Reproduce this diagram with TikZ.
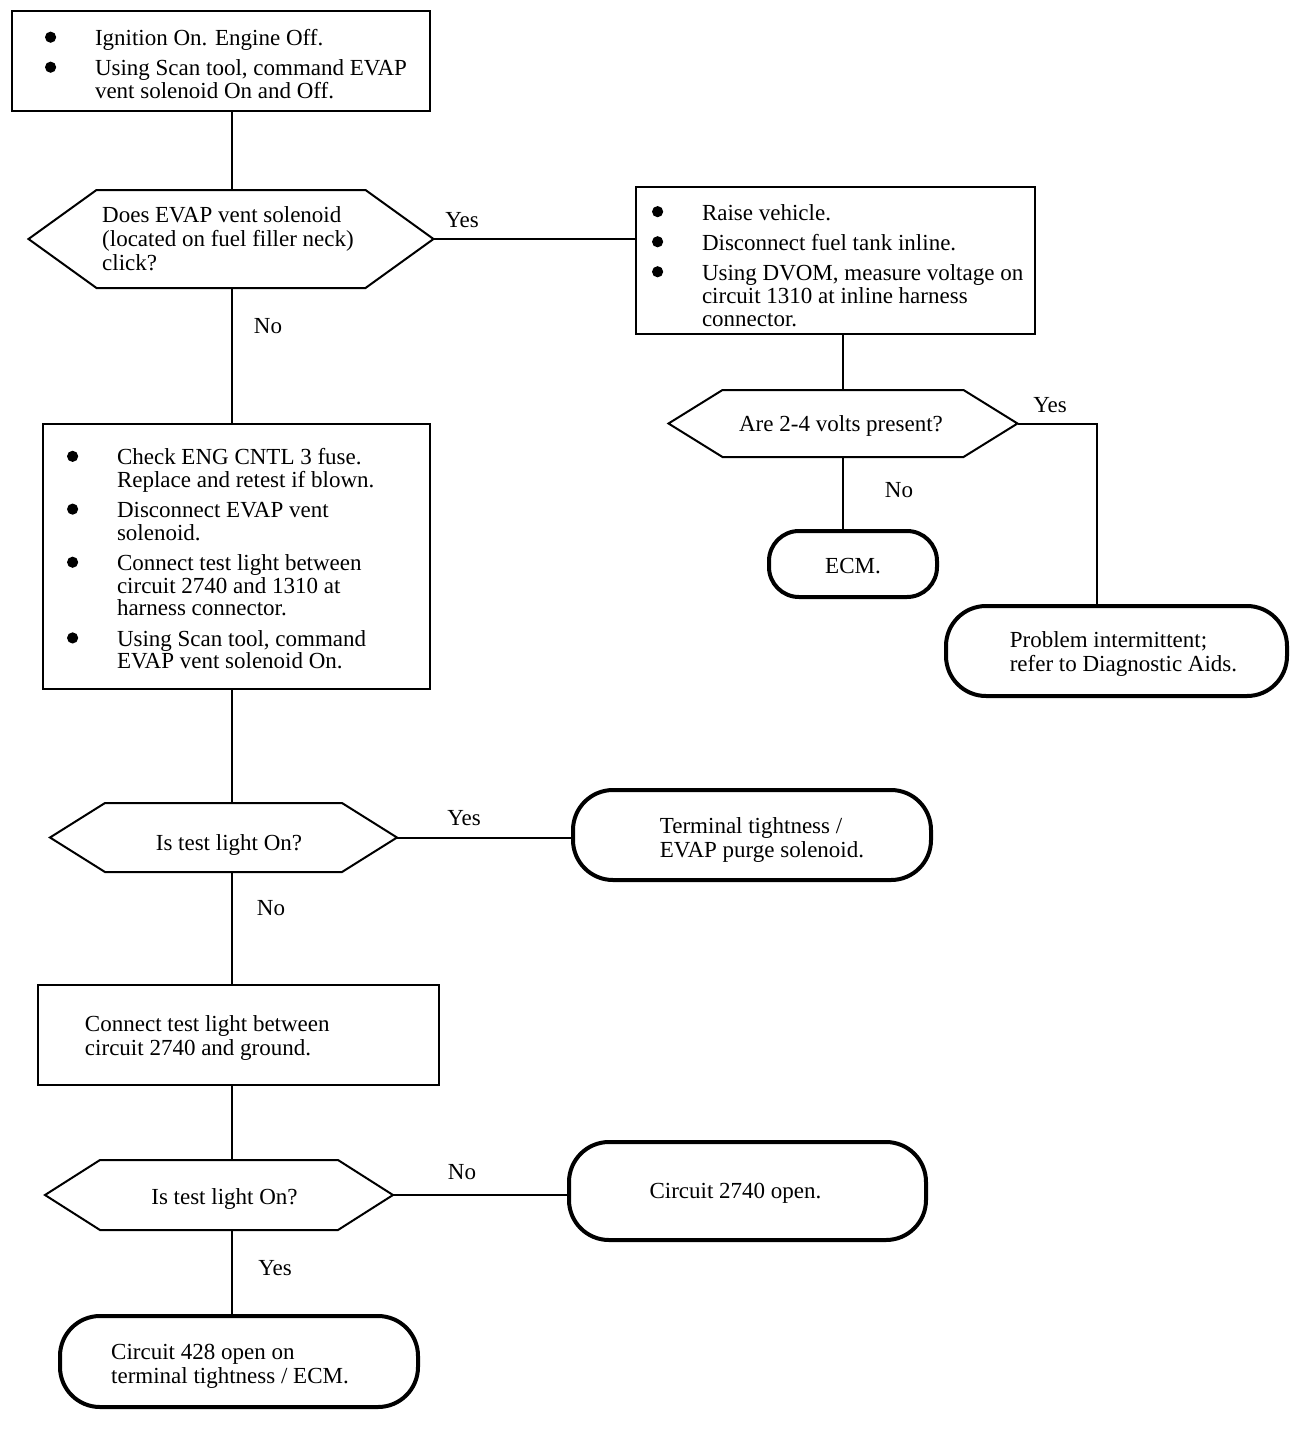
\documentclass[tikz,border=0pt]{standalone}
\usepackage{fontspec}
\usepackage{graphicx}
\usepackage{tikz}
\usetikzlibrary{positioning,calc}
\setmainfont{Liberation Serif}
\newsavebox{\mvbox}
\newcommand{\bul}{\tikz[baseline=-4.2pt]\fill (0,0) circle (2.8pt);}
\newcommand{\mv}[3]{\sbox{\mvbox}{#3}%
  \raisebox{-#2}[\ht\mvbox][\dp\mvbox]{\makebox[\wd\mvbox][l]{\hspace*{#1}\usebox{\mvbox}}}}
\newcommand{\blist}[3]{\makebox[#1][l]{\hspace*{#2}\begin{tabular}{@{}p{25pt}@{}l@{}}#3\end{tabular}}}
\newcommand{\lines}[1]{\begin{tabular}{@{}l@{}}#1\end{tabular}}
\newcommand{\hexa}[2]{\draw[decln] (#1.west) -- ([xshift=#2]#1.north west) -- ([xshift=-#2]#1.north east)
  -- (#1.east) -- ([xshift=-#2]#1.south east) -- ([xshift=#2]#1.south west) -- cycle;}
\tikzset{
  box/.style={draw,line width=1pt,anchor=north west,inner sep=0pt,outer sep=0pt,font=\fontsize{11.5}{11.5}\selectfont},
  dec/.style={inner sep=0pt,outer sep=0pt,font=\fontsize{11.5}{12}\selectfont},
  decln/.style={line width=1pt,line join=miter},
  term/.style={draw,line width=2pt,rounded corners=20pt,inner sep=0pt,outer sep=0pt,font=\fontsize{11.5}{12}\selectfont},
  conn/.style={line width=1pt},
  lbl/.style={inner sep=1pt,font=\fontsize{11.5}{12}\selectfont},
}
\begin{document}
\begin{tikzpicture}[x=0.5pt,y=-0.5pt]
\useasboundingbox (0,0) rectangle (1312,1430);
\coordinate (spine) at (232,0);

\node[box,minimum height=50pt] (chk) at (12,11) {\mv{0pt}{3.25pt}{\blist{209pt}{16.5pt}{%
\bul & Ignition On. Engine Off.\\[3.5pt]
\bul & Using Scan tool, command EVAP\\
     & vent solenoid On and Off.}}};

\node[dec,minimum width=202.5pt,minimum height=49pt] (click) at (231,239)
  {\mv{-1.5pt}{1.2pt}{\lines{Does EVAP vent solenoid\\(located on fuel filler neck)\\click?}}};
\hexa{click}{34pt}

\node[box,minimum height=73.5pt] (dvom) at (636,187) {\mv{0pt}{4pt}{\blist{199.5pt}{8pt}{%
\bul & Raise vehicle.\\[3.5pt]
\bul & Disconnect fuel tank inline.\\[3.5pt]
\bul & Using DVOM, measure voltage on\\
     & circuit 1310 at inline harness\\
     & connector.}}};

\node[dec,minimum width=174.5pt,minimum height=33.5pt] (volts) at (843,423.5)
  {\mv{-1pt}{1pt}{Are 2-4 volts present?}};
\hexa{volts}{27pt}

\node[term,rounded corners=15pt,minimum width=84pt,minimum height=33pt] (ecm) at (853,564)
  {\mv{0pt}{1pt}{ECM.}};
\node[term,minimum width=170.5pt,minimum height=45pt] (intm) at (1116.5,651)
  {\mv{3.5pt}{2pt}{\lines{Problem intermittent;\\refer to Diagnostic Aids.}}};

\node[box,minimum height=132.5pt,font=\fontsize{11.5}{11}\selectfont] (fuse) at (43,424)
  {\mv{0pt}{2.75pt}{\blist{193.5pt}{12pt}{%
\bul & Check ENG CNTL 3 fuse.\\
     & Replace and retest if blown.\\[4pt]
\bul & Disconnect EVAP vent\\
     & solenoid.\\[4pt]
\bul & Connect test light between\\
     & circuit 2740 and 1310 at\\
     & harness connector.\\[4pt]
\bul & Using Scan tool, command\\
     & EVAP vent solenoid On.}}};

\node[dec,minimum width=173.5pt,minimum height=34.5pt] (lite) at (223.5,837.5)
  {\mv{2.75pt}{3.5pt}{Is test light On?}};
\hexa{lite}{27.5pt}
\node[term,minimum width=179pt,minimum height=45pt] (purge) at (752,835)
  {\mv{5pt}{3pt}{\lines{Terminal tightness /\\EVAP purge solenoid.}}};

\node[box,minimum height=50pt] (gnd) at (38,985) {\mv{0pt}{2pt}{\makebox[200.5pt][l]{\hspace*{23.5pt}%
\begin{tabular}{@{}l@{}}Connect test light between\\[0.5pt] circuit 2740 and ground.\end{tabular}}}};

\node[dec,minimum width=174pt,minimum height=35pt] (lite2) at (219,1195)
  {\mv{2.75pt}{2pt}{Is test light On?}};
\hexa{lite2}{27.5pt}
\node[term,minimum width=178.5pt,minimum height=49pt] (open) at (747.5,1191)
  {\mv{-6pt}{1pt}{Circuit 2740 open.}};
\node[term,minimum width=179pt,minimum height=45.5pt] (ckt) at (239,1361.5)
  {\mv{-4.5pt}{2.5pt}{\lines{Circuit 428 open on\\terminal tightness / ECM.}}};

\draw[conn] (chk.south -| spine) -- (click.north -| spine);
\draw[conn] (click.east) -- (click.east -| dvom.west);
\draw[conn] (click.south -| spine) -- (fuse.north -| spine);
\draw[conn] (dvom.south -| volts.north) -- (volts.north);
\draw[conn] (volts.east) -| ([xshift=-9.75pt]intm.north);
\draw[conn] (volts.south) -- (volts.south |- ecm.north);
\draw[conn] (fuse.south -| spine) -- (lite.north -| spine);
\draw[conn] (lite.east) -- (lite.east -| purge.west);
\draw[conn] (lite.south -| spine) -- (gnd.north -| spine);
\draw[conn] (gnd.south -| spine) -- (lite2.north -| spine);
\draw[conn] (lite2.east) -- (lite2.east -| open.west);
\draw[conn] (lite2.south -| spine) -- (ckt.north -| spine);

\node[lbl] (yes1) at (462,220) {Yes};
\node[lbl] (no1) at (268,326) {No};
\node[lbl] (yes2) at (1050,405) {Yes};
\node[lbl] (no2) at (899,490) {No};
\node[lbl] (yes3) at (464,818) {Yes};
\node[lbl] (no3) at (271,908) {No};
\node[lbl] (no4) at (462,1172) {No};
\node[lbl] (yes4) at (275,1268) {Yes};
\end{tikzpicture}
\end{document}
